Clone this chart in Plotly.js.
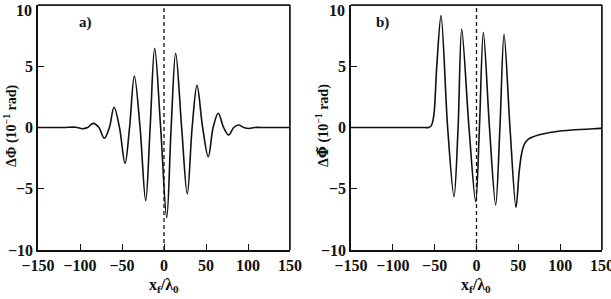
<!DOCTYPE html>
<html>
<head>
<meta charset="utf-8">
<script src="https://cdn.plot.ly/plotly-3.0.1.min.js"></script>
<style>
  html, body { margin: 0; padding: 0; background: #fff; }
  #chart { width: 611px; height: 299px; }
</style>
</head>
<body>
<div id="chart"></div>
<script>
// Phase shift ΔΦ (units of 1e-1 rad) versus focal position x_f / λ0

// Panel a) — symmetric wave packet
const xA = [-150, -120, -105, -97, -91, -84, -77.5, -71, -65, -59.5, -53, -46.4, -41, -35.3,
            -28.5, -21.8, -16.5, -11.1, -4, 3.2, 8.5, 13.9, 21, 27.7, 33.5, 39.3, 46,
            52.7, 58.5, 64.6, 71, 77, 83, 88.9, 95, 101, 108, 120, 150];
const yA = [0, 0, 0.02, -0.1, 0, 0.34, 0, -0.88, 0, 1.65, 0, -2.92, 0, 4.2,
            0, -5.97, 0, 6.46, 0, -7.36, 0, 6.05, 0, -5.43, 0, 3.44, 0,
            -2.38, 0, 1.16, 0, -0.61, 0, 0.2, 0, -0.08, 0, 0, 0];

// Panel b) — one-sided oscillation with a slow tail
const xB = [-150, -100, -62, -57, -54, -51, -47.5, -42.4, -34.5, -26.9, -22, -17.7, -9,
            -1.0, 3.5, 8.2, 15.5, 22.9, 28, 32.9, 40, 47.2, 51, 54, 57, 62,
            74, 94, 114, 148, 150];
const yB = [0, 0, 0, 0, 0.15, 1.0, 5.0, 9.13, 0, -5.65, 0, 8.04, 0,
            -6.06, 0, 7.77, 0, -6.33, 0, 7.61, 0, -6.52, -3.6, -2.1, -1.4, -0.95,
            -0.61, -0.34, -0.2, -0.07, -0.06];

const xTicks = [-150, -100, -50, 0, 50, 100, 150];
const xTickText = ['\u2212150', '\u2212100', '\u221250', '0', '50', '100', '150'];
const yTicks = [-10, -5, 0, 5, 10];
const yTickText = ['\u221210', '\u22125', '0', '5', '10'];
const yRange = [-10, 10];
const xRange = [-150, 150];
const markerX = 0;   // dashed reference line position
const panelLabels = ['a)', 'b)'];

const serif = 'Liberation Serif';
const ink = '#111';
const tickFont = { family: serif, size: 16, color: ink, weight: 'bold' };

// the topmost y label sits just inside the frame, so it is placed as an annotation
const yTickShown = yTickText.map((t, i) => (yTicks[i] === yRange[1] ? '' : t));

// labelled axes (major ticks only)
function xAxis(domain, anchor) {
  return {
    domain: domain, anchor: anchor, range: xRange,
    tickmode: 'array', tickvals: xTicks, ticktext: xTickText,
    ticks: 'inside', ticklen: 6, tickwidth: 1.2, tickcolor: ink,
    showline: true, linecolor: ink, linewidth: 1.5,
    showgrid: false, zeroline: false, ticklabeloverflow: 'allow',
    tickfont: tickFont
  };
}
function yAxis(domain, anchor) {
  return {
    domain: domain, anchor: anchor, range: yRange,
    tickmode: 'array', tickvals: yTicks, ticktext: yTickShown,
    ticks: 'inside', ticklen: 6, tickwidth: 1.2, tickcolor: ink,
    showline: true, linecolor: ink, linewidth: 1.5,
    showgrid: false, zeroline: false, ticklabeloverflow: 'allow',
    tickfont: tickFont
  };
}
// unlabelled companions carrying major + minor ticks on all four sides
function xTickAxis(domain, anchor, over) {
  return {
    domain: domain, anchor: anchor, overlaying: over, range: xRange,
    tickmode: 'linear', tick0: xRange[0], dtick: 50, showticklabels: false,
    ticks: 'inside', ticklen: 6, tickwidth: 1.2, tickcolor: ink,
    minor: { ticks: 'inside', dtick: 10, ticklen: 3, tickwidth: 1, tickcolor: ink },
    showline: true, linecolor: ink, linewidth: 1.5, mirror: 'allticks',
    showgrid: false, zeroline: false
  };
}
function yTickAxis(domain, anchor, over) {
  return {
    domain: domain, anchor: anchor, overlaying: over, range: yRange,
    tickmode: 'linear', tick0: yRange[0], dtick: 5, showticklabels: false,
    ticks: 'inside', ticklen: 6, tickwidth: 1.2, tickcolor: ink,
    minor: { ticks: 'inside', dtick: 1, ticklen: 3, tickwidth: 1, tickcolor: ink },
    showline: true, linecolor: ink, linewidth: 1.5, mirror: 'allticks',
    showgrid: false, zeroline: false
  };
}

const yDom = [1 - 250 / 299, 1 - 5 / 299];
const xDomA = [38 / 611, 290 / 611];
const xDomB = [351 / 611, 602 / 611];

// top and right edges of a panel box, traced along the axis limits
const boxEdge = (xa, ya) => ({
  x: [xRange[0], xRange[1], xRange[1]], y: [yRange[1], yRange[1], yRange[0]],
  xaxis: xa, yaxis: ya, type: 'scatter', mode: 'lines', cliponaxis: false,
  line: { color: ink, width: 1.5 }, hoverinfo: 'skip'
});

const traces = [
  { x: xA, y: yA, xaxis: 'x', yaxis: 'y', type: 'scatter', mode: 'lines',
    line: { color: ink, width: 1.6, shape: 'spline', smoothing: 1 }, hoverinfo: 'skip' },
  { x: xB, y: yB, xaxis: 'x2', yaxis: 'y2', type: 'scatter', mode: 'lines',
    line: { color: ink, width: 1.6, shape: 'spline', smoothing: 0.9 }, hoverinfo: 'skip' },
  boxEdge('x', 'y'),
  boxEdge('x2', 'y2')
];

const dashed = (xr, yr) => ({
  type: 'line', xref: xr, yref: yr, x0: markerX, x1: markerX, y0: yRange[0], y1: yRange[1],
  line: { color: ink, width: 1.3, dash: '4px,3px' }
});
const frameEdges = (xd) => ([
  { type: 'line', xref: 'paper', yref: 'paper', x0: xd[0], x1: xd[1], y0: yDom[1], y1: yDom[1],
    line: { color: ink, width: 1.5 } },
  { type: 'line', xref: 'paper', yref: 'paper', x0: xd[1], x1: xd[1], y0: yDom[0], y1: yDom[1],
    line: { color: ink, width: 1.5 } }
]);

const xTitle = '<b>x<sub>f</sub>/\u03bb<sub>0</sub></b>';
const titleFont = { family: serif, size: 16, color: ink };
const yTitleFont = { family: serif, size: 14, color: ink };
const phiTilde = '<span style="font-family:DejaVu Serif">\u03a6\u0303</span>';
const topLabel = yTickText[yTicks.indexOf(yRange[1])];

const layout = {
  width: 611, height: 299,
  margin: { l: 0, r: 0, t: 0, b: 0 },
  paper_bgcolor: '#fff', plot_bgcolor: '#fff',
  showlegend: false,
  xaxis: xAxis(xDomA, 'y'),
  yaxis: yAxis(yDom, 'x'),
  xaxis2: xAxis(xDomB, 'y2'),
  yaxis2: yAxis(yDom, 'x2'),
  xaxis3: xTickAxis(xDomA, 'y', 'x'),
  yaxis3: yTickAxis(yDom, 'x', 'y'),
  xaxis4: xTickAxis(xDomB, 'y2', 'x2'),
  yaxis4: yTickAxis(yDom, 'x2', 'y2'),
  shapes: [dashed('x', 'y'), dashed('x2', 'y2')].concat(frameEdges(xDomA), frameEdges(xDomB)),
  annotations: [
    { xref: 'x', yref: 'y', x: -94, y: 8.6, text: '<b>' + panelLabels[0] + '</b>',
      showarrow: false, font: { family: serif, size: 15, color: ink } },
    { xref: 'x2', yref: 'y2', x: -112, y: 8.6, text: '<b>' + panelLabels[1] + '</b>',
      showarrow: false, font: { family: serif, size: 15, color: ink } },
    { xref: 'paper', yref: 'paper', x: 34 / 611, y: 1 - 11 / 299, text: topLabel,
      xanchor: 'right', yanchor: 'middle', showarrow: false, font: tickFont },
    { xref: 'paper', yref: 'paper', x: 347 / 611, y: 1 - 11 / 299, text: topLabel,
      xanchor: 'right', yanchor: 'middle', showarrow: false, font: tickFont },
    { xref: 'paper', yref: 'paper', x: 164 / 611, y: 1 - 285 / 299, text: xTitle,
      xanchor: 'center', yanchor: 'middle', showarrow: false, font: titleFont },
    { xref: 'paper', yref: 'paper', x: 476 / 611, y: 1 - 285 / 299, text: xTitle,
      xanchor: 'center', yanchor: 'middle', showarrow: false, font: titleFont },
    { xref: 'paper', yref: 'paper', x: 11 / 611, y: 1 - 126 / 299, textangle: -90,
      xanchor: 'center', yanchor: 'middle',
      text: '<b>\u0394\u03a6 (10<sup>\u22121</sup> rad)</b>', showarrow: false, font: yTitleFont },
    { xref: 'paper', yref: 'paper', x: 323 / 611, y: 1 - 126 / 299, textangle: -90,
      xanchor: 'center', yanchor: 'middle',
      text: '<b>\u0394' + phiTilde + ' (10<sup>\u22121</sup> rad)</b>', showarrow: false, font: yTitleFont }
  ]
};

Plotly.newPlot('chart', traces, layout, { displayModeBar: false });
</script>
</body>
</html>
